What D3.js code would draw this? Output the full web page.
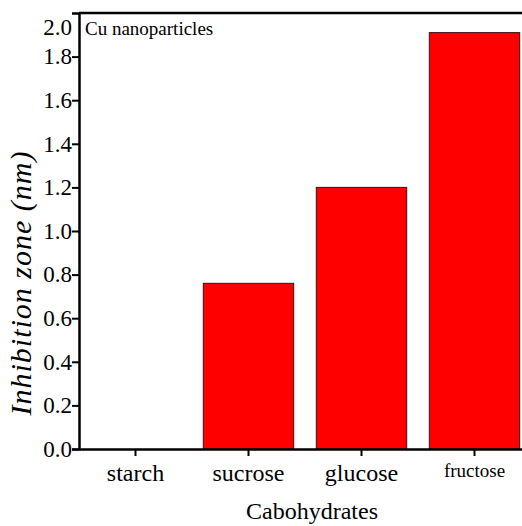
<!DOCTYPE html>
<html>
<head>
<meta charset="utf-8">
<script src="https://cdn.jsdelivr.net/npm/d3@7.9.0/dist/d3.min.js"></script>
<style>
  body { margin: 0; background: #fff; }
</style>
</head>
<body>
<svg id="chart"></svg>
<script>
const categories = ["starch", "sucrose", "glucose", "fructose"];
const inhibition = [0, 0.76, 1.2, 1.91];
const yTicks = [0, 0.2, 0.4, 0.6, 0.8, 1.0, 1.2, 1.4, 1.6, 1.8, 2.0];

const width = 522, height = 526;
const plot = { left: 79, top: 13, bottom: 449, right: 531 };
const serif = "'Liberation Serif', 'Times New Roman', serif";

const svg = d3.select("#chart")
    .attr("width", width)
    .attr("height", height)
    .attr("font-family", serif);

const x = d3.scaleBand()
    .domain(categories)
    .range([plot.left, plot.right])
    .paddingInner(0.2)
    .paddingOuter(0.1);

const y = d3.scaleLinear()
    .domain([0, 2.0])
    .range([plot.bottom, plot.top]);

// bars
svg.selectAll("rect.bar")
    .data(categories)
    .enter()
    .append("rect")
    .attr("class", "bar")
    .attr("x", d => x(d))
    .attr("width", x.bandwidth())
    .attr("y", (d, i) => y(inhibition[i]))
    .attr("height", (d, i) => y(0) - y(inhibition[i]))
    .attr("fill", "#ff0000")
    .attr("stroke", "#3a1010")
    .attr("stroke-width", 1);

// top border
svg.append("line")
    .attr("x1", plot.left).attr("x2", width)
    .attr("y1", y(2.0)).attr("y2", y(2.0))
    .attr("stroke", "#000").attr("stroke-width", 2.5);

// y axis
const yAxis = svg.append("g")
    .attr("transform", `translate(${plot.left},0)`)
    .call(d3.axisLeft(y).tickValues(yTicks).tickFormat(d3.format(".1f")).tickSize(7).tickPadding(0));
yAxis.attr("font-family", serif);
yAxis.select(".domain").attr("stroke-width", 2.5);
yAxis.selectAll(".tick line").attr("stroke-width", 2);
yAxis.selectAll(".tick text")
    .attr("font-size", 23)
    .attr("fill", "#000");
// the 2.0 label sits below the frame corner
yAxis.selectAll(".tick").filter(d => d === 2.0).select("line").remove();
yAxis.selectAll(".tick").filter(d => d === 2.0).select("text").attr("dy", "0.95em");

// x axis
const xAxis = svg.append("g")
    .attr("transform", `translate(0,${plot.bottom})`)
    .call(d3.axisBottom(x).tickSize(7).tickPadding(8).tickSizeOuter(0));
xAxis.attr("font-family", serif);
xAxis.select(".domain").attr("stroke-width", 2.5);
xAxis.selectAll(".tick line").attr("stroke-width", 2);
xAxis.selectAll(".tick text")
    .attr("font-size", d => d === "fructose" ? 19 : 24)
    .attr("fill", "#000");

// annotation
svg.append("text")
    .attr("x", 85)
    .attr("y", 35)
    .attr("font-size", 19)
    .text("Cu nanoparticles");

// axis titles
svg.append("text")
    .attr("x", 312)
    .attr("y", 519)
    .attr("text-anchor", "middle")
    .attr("font-size", 24)
    .text("Cabohydrates");

svg.append("text")
    .attr("transform", "translate(31,283) rotate(-90)")
    .attr("text-anchor", "middle")
    .attr("font-size", 30)
    .attr("letter-spacing", 1)
    .attr("font-style", "italic")
    .text("Inhibition zone (nm)");
</script>
</body>
</html>
